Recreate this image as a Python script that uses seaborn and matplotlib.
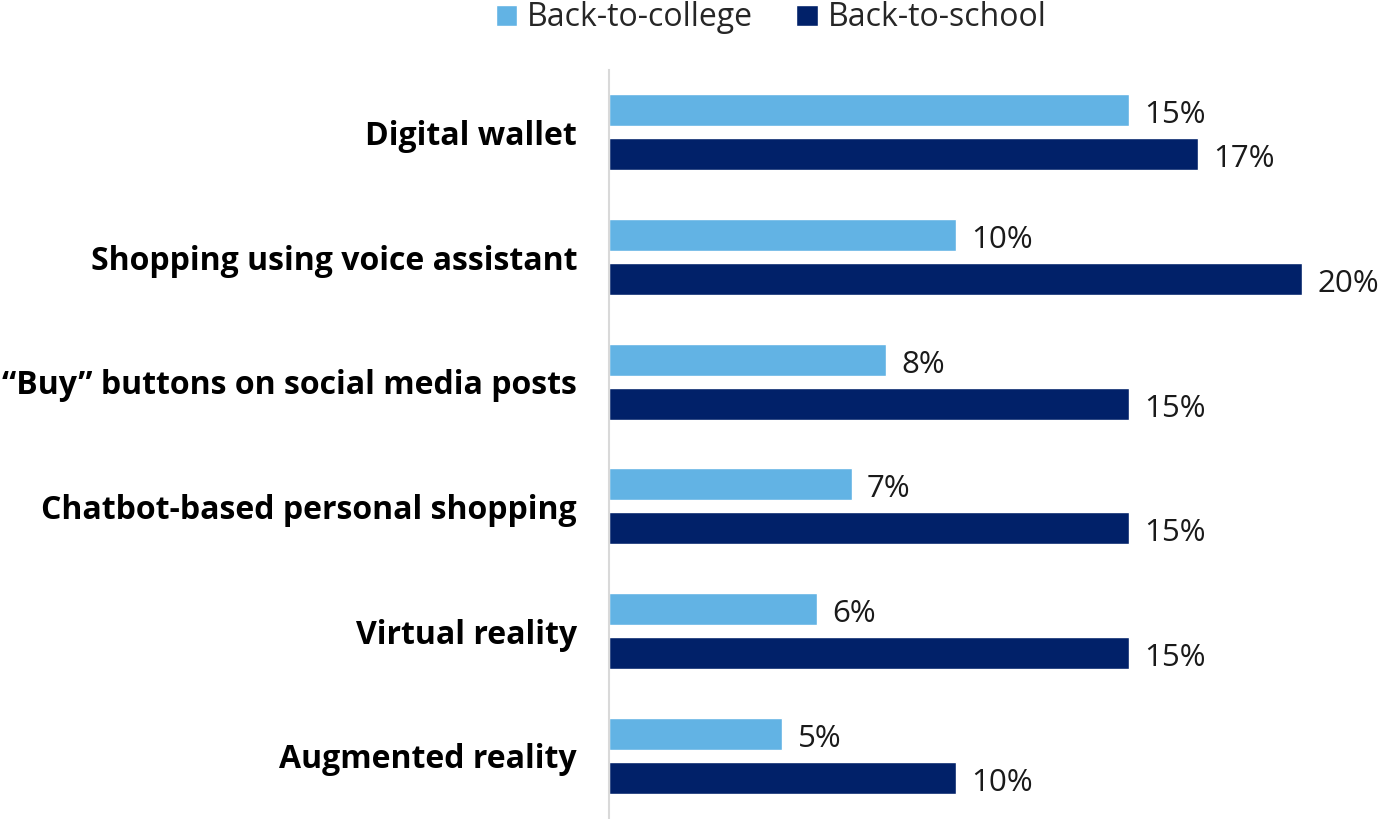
import matplotlib
matplotlib.use("Agg")
import matplotlib.pyplot as plt
import seaborn as sns
import pandas as pd

categories = [
    "Digital wallet",
    "Shopping using voice assistant",
    "\u201cBuy\u201d buttons on social media posts",
    "Chatbot-based personal shopping",
    "Virtual reality",
    "Augmented reality",
]
series_names = ["Back-to-college", "Back-to-school"]
college_values = [15, 10, 8, 7, 6, 5]
school_values = [17, 20, 15, 15, 15, 10]
colors = ["#62B3E4", "#012169"]

df = pd.DataFrame({
    "category": categories * 2,
    "series": [series_names[0]] * len(categories) + [series_names[1]] * len(categories),
    "value": college_values + school_values,
})

sns.set_theme(style="white")
plt.rcParams["font.family"] = ["Open Sans", "DejaVu Sans"]

fig = plt.figure(figsize=(13.79, 8.19), dpi=100)
ax = fig.add_axes([609 / 1379, 1 / 819, 770 / 1379, 748 / 819])

sns.barplot(
    data=df, x="value", y="category", hue="series", orient="h",
    palette=colors, width=0.706, gap=0.27, ax=ax, saturation=1,
)

ax.set_xlim(0, 770 / 34.65)
ax.set_ylim(len(categories) - 0.5, -0.5)

# value labels just right of each bar, nudged slightly down
for cont in ax.containers:
    anns = ax.bar_label(cont, fmt="%g%%", padding=11, fontsize=22.5, color="#1a1a1a")
    for ann in anns:
        ann.xyann = (11, -3.5)

ax.set_xlabel("")
ax.set_ylabel("")
ax.set_xticks([])
ax.tick_params(axis="y", length=0, pad=23)
for lab in ax.get_yticklabels():
    lab.set_fontweight("bold")
    lab.set_fontsize(23)
    lab.set_color("#000000")

for side in ["top", "right", "bottom"]:
    ax.spines[side].set_visible(False)
ax.spines["left"].set_color("#D9D9D9")
ax.spines["left"].set_linewidth(1.5)

sns.move_legend(
    ax, "center", bbox_to_anchor=((771 - 609) / 770, 800 / 748), ncol=2,
    frameon=False, title=None, fontsize=23, handlelength=0.66,
    handleheight=0.66, handletextpad=0.31, columnspacing=1.37,
)

fig.savefig("out.png", dpi=100, facecolor="white")
